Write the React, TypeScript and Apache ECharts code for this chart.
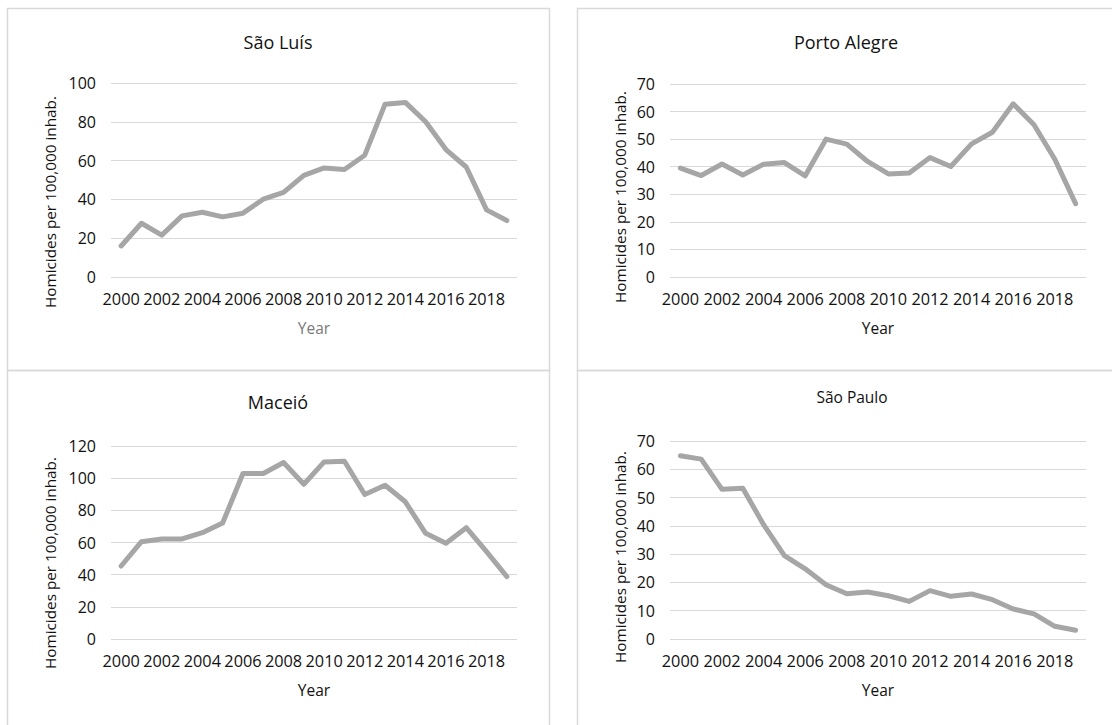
import React, { useEffect, useRef } from "react";
import * as echarts from "echarts";

const years: string[] = [
  "2000", "2001", "2002", "2003", "2004", "2005", "2006", "2007", "2008", "2009",
  "2010", "2011", "2012", "2013", "2014", "2015", "2016", "2017", "2018", "2019",
];

const saoLuis: number[] = [16, 27.7, 21.6, 31.5, 33.4, 31, 32.9, 40.1, 43.6, 52.4, 56.2, 55.4, 62.8, 89.1, 90, 80, 65.7, 56.7, 34.6, 29.1];
const portoAlegre: number[] = [39.5, 36.8, 41, 37, 40.9, 41.5, 36.7, 50, 48.2, 41.9, 37.4, 37.7, 43.3, 40.1, 48.3, 52.5, 62.8, 55.2, 42.7, 26.6];
const maceio: number[] = [45.4, 60.5, 62.2, 62.2, 66.1, 72.1, 102.9, 102.9, 109.7, 96.2, 110.1, 110.5, 89.8, 95.6, 85.3, 65.7, 59.5, 69.2, 54.3, 38.8];
const saoPaulo: number[] = [64.8, 63.6, 52.9, 53.3, 40.4, 29.5, 24.8, 19.2, 16, 16.6, 15.3, 13.3, 17.1, 15.1, 15.9, 13.9, 10.6, 8.9, 4.5, 3.1];

const panelTitles: string[] = ["São Luís", "Porto Alegre", "Maceió", "São Paulo"];
const yMax: number[] = [100, 70, 120, 70];
const yInterval: number[] = [20, 10, 20, 10];
const yAxisTitle = "Homicides per 100,000 inhab.";
const xAxisTitle = "Year";

const FONT = "'Open Sans', 'Noto Sans', sans-serif";

export default function App() {
  const ref = useRef<HTMLDivElement>(null);

  useEffect(() => {
    if (!ref.current) return;
    const chart = echarts.init(ref.current, undefined, { renderer: "svg" });

    const grids = [
      { left: 111, top: 83, width: 406, height: 194 },
      { left: 670, top: 84, width: 416, height: 193 },
      { left: 111, top: 446, width: 406, height: 193 },
      { left: 670, top: 441, width: 416, height: 198 },
    ];
    const seriesData = [saoLuis, portoAlegre, maceio, saoPaulo];
    const titlePos = [
      { x: 278, y: 42, size: 18 },
      { x: 846, y: 42, size: 18 },
      { x: 278, y: 402, size: 18 },
      { x: 852, y: 397, size: 15.5 },
    ];
    const yNamePos = [
      { x: 50, y: 202 },
      { x: 620, y: 197 },
      { x: 50, y: 563 },
      { x: 620, y: 557 },
    ];
    const yearColors = ["#7a7a7a", "#111", "#111", "#111"];

    const border = "#d9d9d9";
    const graphic: any[] = [
      { type: "rect", shape: { x: 7.5, y: 8.5, width: 542, height: 362 }, style: { fill: "none", stroke: border, lineWidth: 1.5 }, silent: true },
      { type: "rect", shape: { x: 7.5, y: 370.5, width: 542, height: 370 }, style: { fill: "none", stroke: border, lineWidth: 1.5 }, silent: true },
      { type: "rect", shape: { x: 577.5, y: 8.5, width: 560, height: 362 }, style: { fill: "none", stroke: border, lineWidth: 1.5 }, silent: true },
      { type: "rect", shape: { x: 577.5, y: 370.5, width: 560, height: 370 }, style: { fill: "none", stroke: border, lineWidth: 1.5 }, silent: true },
    ];
    panelTitles.forEach((t, i) => {
      graphic.push({
        type: "text",
        x: titlePos[i].x,
        y: titlePos[i].y,
        style: { text: t, fontFamily: FONT, fontSize: titlePos[i].size, fill: "#111", align: "center", verticalAlign: "middle" },
        silent: true,
      });
      graphic.push({
        type: "text",
        x: yNamePos[i].x,
        y: yNamePos[i].y,
        rotation: Math.PI / 2,
        style: { text: yAxisTitle, fontFamily: FONT, fontSize: 15.3, fill: "#111", align: "center", verticalAlign: "middle" },
        silent: true,
      });
    });

    const option: any = {
      animation: false,
      backgroundColor: "#fff",
      grid: grids.map((g) => ({ ...g, containLabel: false })),
      xAxis: grids.map((_, i) => ({
        type: "category",
        gridIndex: i,
        data: years,
        boundaryGap: true,
        axisLine: { show: false },
        axisTick: { show: false },
        axisLabel: { interval: 1, margin: 14, fontFamily: FONT, fontSize: 16.3, color: "#111" },
        name: xAxisTitle,
        nameLocation: "middle",
        nameGap: 51,
        nameTextStyle: { fontFamily: FONT, fontSize: 15.5, color: yearColors[i], verticalAlign: "middle" },
      })),
      yAxis: grids.map((_, i) => ({
        type: "value",
        gridIndex: i,
        min: 0,
        max: yMax[i],
        interval: yInterval[i],
        axisLine: { show: false },
        axisTick: { show: false },
        axisLabel: { margin: 15, fontFamily: FONT, fontSize: 16, color: "#111" },
        splitLine: { show: true, lineStyle: { color: "#d9d9d9", width: 1 } },
      })),
      series: seriesData.map((d, i) => ({
        type: "line",
        xAxisIndex: i,
        yAxisIndex: i,
        data: d,
        showSymbol: false,
        symbol: "none",
        lineStyle: { color: "#a6a6a6", width: 5, cap: "round", join: "round" },
      })),
      graphic,
    };

    chart.setOption(option);
    return () => chart.dispose();
  }, []);

  return (
    <div
      ref={ref}
      style={{ position: "absolute", left: 0, top: 0, width: 1112, height: 725, background: "#fff" }}
    />
  );
}
